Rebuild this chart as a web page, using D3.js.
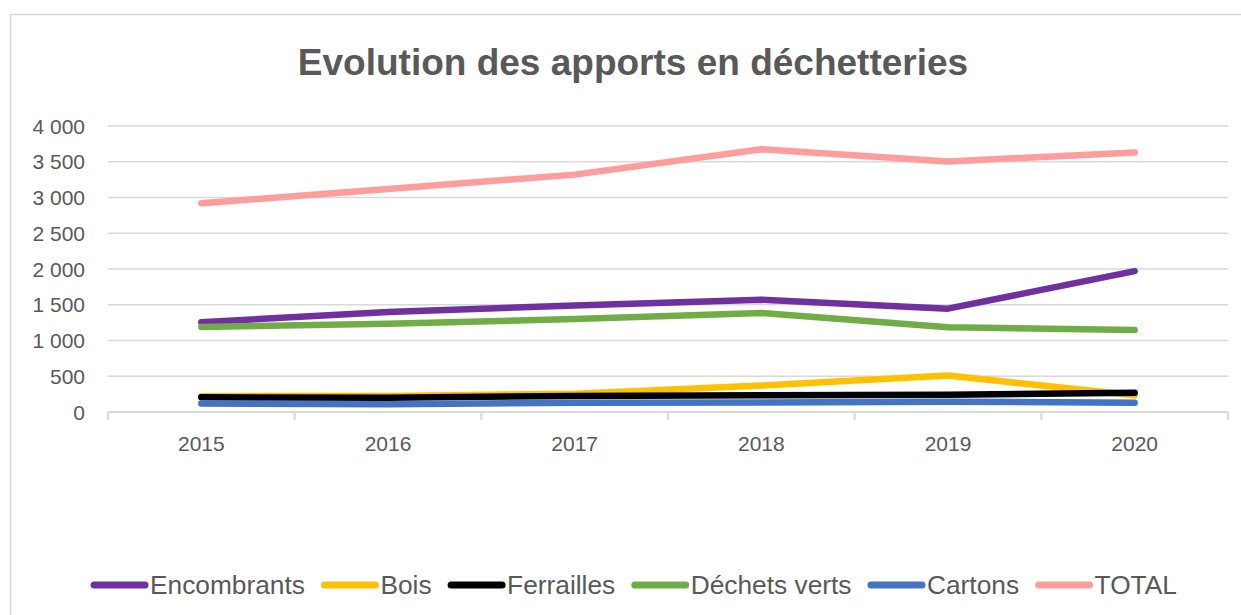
<!DOCTYPE html>
<html>
<head>
<meta charset="utf-8">
<script src="https://cdn.jsdelivr.net/npm/d3@7"></script>
<style>
    body { margin: 0; background: #fff; }
    text { font-family: "Liberation Sans", Arial, sans-serif; fill: #595959; }
</style>
</head>
<body>
<svg id="chart" width="1241" height="615"></svg>
<script>
(function () {
    'use strict';

    const years = ['2015', '2016', '2017', '2018', '2019', '2020'];
    const seriesNames = ['Encombrants', 'Bois', 'Ferrailles', 'Déchets verts', 'Cartons', 'TOTAL'];
    const seriesColors = ['#7030a0', '#ffc000', '#000000', '#70ad47', '#4472c4', '#ff9c9c'];

    const encombrants = [1255, 1400, 1490, 1570, 1445, 1970];
    const bois = [222, 225, 255, 370, 510, 235];
    const ferrailles = [205, 200, 225, 234, 240, 268];
    const dechetsVerts = [1190, 1235, 1300, 1385, 1185, 1147];
    const cartons = [118, 110, 128, 132, 145, 128];
    const total = [2920, 3120, 3320, 3675, 3505, 3628];

    const yTicks = [0, 500, 1000, 1500, 2000, 2500, 3000, 3500, 4000];

    const values = [encombrants, bois, ferrailles, dechetsVerts, cartons, total];
    const series = seriesNames.map((name, i) => {
        return { name: name, color: seriesColors[i], values: values[i] };
    });

    const margin = { top: 126, left: 108, right: 13, bottom: 203 };
    const width = 1241 - margin.left - margin.right;
    const height = 615 - margin.top - margin.bottom;

    const fr = d3.formatLocale({ decimal: ',', thousands: '\u00a0', grouping: [3], currency: ['', ' €'] });
    const fmt = fr.format(',d');

    const svg = d3.select('#chart');

    // chart frame
    svg.append('rect')
        .attr('x', 10.5)
        .attr('y', 14.5)
        .attr('width', 1300)
        .attr('height', 700)
        .attr('fill', 'none')
        .attr('stroke', '#d9d9d9')
        .attr('stroke-width', 1.5);

    svg.append('text')
        .attr('x', 633)
        .attr('y', 75)
        .attr('text-anchor', 'middle')
        .style('font-size', '37px')
        .style('font-weight', 'bold')
        .text('Evolution des apports en déchetteries');

    const chart = svg.append('g')
        .attr('transform', `translate(${margin.left}, ${margin.top})`);

    const x = d3.scaleBand()
        .domain(years)
        .range([0, width]);

    const y = d3.scaleLinear()
        .domain([0, 4000])
        .range([height, 0]);

    // gridlines
    chart.append('g')
        .selectAll('line')
        .data(yTicks.filter((d) => d > 0))
        .enter().append('line')
            .attr('x1', 0)
            .attr('x2', width)
            .attr('y1', (d) => y(d))
            .attr('y2', (d) => y(d))
            .attr('stroke', '#d9d9d9')
            .attr('stroke-width', 1.5);

    // y labels
    chart.append('g')
        .selectAll('text')
        .data(yTicks)
        .enter().append('text')
            .attr('x', -23)
            .attr('y', (d) => y(d))
            .attr('dy', '0.36em')
            .attr('text-anchor', 'end')
            .style('font-size', '21px')
            .text((d) => fmt(d));

    // x axis
    const xAxis = chart.append('g')
        .attr('transform', `translate(0, ${height})`);
    xAxis.append('line')
        .attr('x1', 0)
        .attr('x2', width)
        .attr('stroke', '#d9d9d9')
        .attr('stroke-width', 2);
    xAxis.selectAll('.tick-mark')
        .data(years.concat(['end']))
        .enter().append('line')
            .attr('class', 'tick-mark')
            .attr('x1', (d, i) => i * x.bandwidth())
            .attr('x2', (d, i) => i * x.bandwidth())
            .attr('y1', 0)
            .attr('y2', 8)
            .attr('stroke', '#d9d9d9')
            .attr('stroke-width', 2);
    xAxis.selectAll('.tick-label')
        .data(years)
        .enter().append('text')
            .attr('class', 'tick-label')
            .attr('x', (d) => x(d) + x.bandwidth() / 2)
            .attr('y', 31)
            .attr('dy', '0.36em')
            .attr('text-anchor', 'middle')
            .style('font-size', '21px')
            .text((d) => d);

    const line = d3.line()
        .x((d, i) => x(years[i]) + x.bandwidth() / 2)
        .y((d) => y(d));

    chart.selectAll('.serie')
        .data(series)
        .enter().append('path')
            .attr('class', 'serie')
            .attr('d', (d) => line(d.values))
            .attr('fill', 'none')
            .attr('stroke', (d) => d.color)
            .attr('stroke-width', 6.5)
            .attr('stroke-linecap', 'round')
            .attr('stroke-linejoin', 'round');

    // legend
    const legend = svg.append('g')
        .attr('transform', 'translate(0, 585)');
    let lx = 91;
    series.forEach((s) => {
        const item = legend.append('g');
        item.append('line')
            .attr('x1', lx + 3)
            .attr('x2', lx + 54)
            .attr('stroke', s.color)
            .attr('stroke-width', 7)
            .attr('stroke-linecap', 'round');
        const t = item.append('text')
            .attr('x', lx + 59)
            .attr('y', 9)
            .style('font-size', '26.3px')
            .text(s.name);
        lx += 59 + t.node().getComputedTextLength() + 16.5;
    });
})();
</script>
</body>
</html>
